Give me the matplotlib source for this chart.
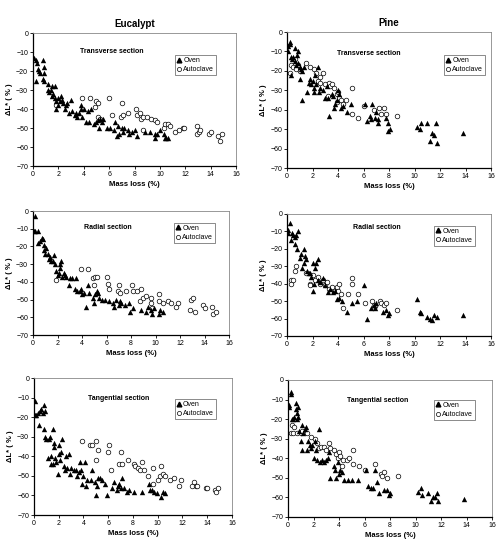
import matplotlib
matplotlib.use("Agg")
import matplotlib.pyplot as plt
from matplotlib.lines import Line2D

plt.rcParams['font.family'] = ['Liberation Sans', 'DejaVu Sans']

# ---- data ----
# Eucalypt, transverse
eu_tr_oven_x = [0.1, 0.2, 0.2, 0.35, 0.4, 0.5, 0.55, 0.8, 0.85, 0.8, 0.9, 0.9, 1.2, 1.2, 1.3, 1.4, 1.5, 1.5, 1.6, 1.7,
                1.7, 1.8, 1.8, 2.0, 2.0, 2.1, 2.2, 2.3, 2.4, 2.5, 2.6, 2.7, 2.8, 3.0, 3.1, 3.3, 3.4, 3.5, 3.6, 3.8,
                3.8, 3.9, 4.0, 4.2, 4.3, 4.4, 4.6, 4.8, 5.0, 5.1, 5.2, 5.3, 5.4, 5.5, 5.8, 6.1, 6.4, 6.5, 6.6, 6.7,
                6.8, 7.0, 7.1, 7.2, 7.5, 7.6, 7.8, 8.0, 8.2, 8.8, 9.2, 9.6, 9.6, 9.8, 10.0, 10.3, 10.4, 10.5, 10.6]
eu_tr_oven_y = [-13, -14, -25, -16, -19, -20, -21, -14, -18, -24, -21, -25, -27, -30, -31, -30, -33, -28, -32, -34,
                -28, -36, -40, -38, -34, -36, -33, -35, -37, -40, -38, -37, -42, -35, -41, -43, -42, -44, -42, -38,
                -40, -44, -40, -47, -41, -47, -40, -48, -47, -46, -50, -45, -47, -45, -50, -50, -51, -47, -54, -49,
                -53, -50, -52, -50, -51, -53, -52, -51, -54, -52, -52, -53, -55, -53, -51, -53, -55, -55, -55]
eu_tr_auto_x = [1.8, 3.9, 4.5, 4.9, 5.0, 5.1, 5.1, 5.3, 6.0, 6.2, 6.9, 7.0, 7.1, 7.5, 8.1, 8.2, 8.4, 8.5, 8.7, 8.7,
                9.0, 9.3, 9.6, 9.8, 10.3, 10.4, 10.6, 10.8, 11.2, 11.5, 11.8, 11.9, 12.9, 12.9, 13.1, 13.2, 13.9,
                14.0, 14.6, 14.7, 14.9]
eu_tr_auto_y = [-38, -34, -34, -39, -36, -37, -44, -45, -34, -43, -44, -37, -43, -42, -40, -43, -42, -45, -44, -51,
                -44, -45, -46, -47, -50, -48, -48, -49, -52, -51, -50, -50, -49, -53, -52, -51, -53, -52, -54, -57, -53]

# Pine, transverse
pi_tr_oven_x = [0.05, 0.1, 0.2, 0.25, 0.3, 0.3, 0.4, 0.5, 0.6, 0.65, 0.7, 0.8, 0.85, 0.9, 1.0, 1.0, 1.1, 1.2, 1.2,
                1.3, 1.6, 1.7, 1.8, 1.9, 2.0, 2.1, 2.1, 2.2, 2.3, 2.4, 2.5, 2.6, 2.8, 3.0, 3.1, 3.2, 3.3, 3.5, 3.6,
                3.7, 3.8, 3.9, 4.0, 4.1, 4.2, 4.4, 4.7, 5.0, 6.1, 6.3, 6.5, 6.6, 6.7, 6.9, 7.0, 7.1, 7.1, 7.8, 7.9,
                7.9, 8.1, 10.2, 10.4, 10.5, 11.0, 11.2, 11.4, 11.5, 11.7, 11.8, 13.8]
pi_tr_oven_y = [-7, -10, -5, -6, -13, -22, -14, -13, -15, -8, -17, -12, -16, -10, -24, -18, -19, -20, -35,
                -18, -31, -26, -24, -27, -25, -29, -31, -22, -27, -18, -31, -29, -30, -34, -28, -34, -43, -32, -33,
                -39, -37, -35, -30, -32, -39, -38, -41, -37, -37, -46, -43, -45, -37, -44, -41, -45, -47, -44, -47,
                -51, -50, -49, -50, -47, -47, -56, -52, -53, -47, -57, -52]
pi_tr_auto_x = [0.2, 0.3, 0.5, 0.6, 0.7, 0.9, 1.0, 1.5, 1.8, 2.1, 2.3, 2.4, 2.6, 2.6, 2.8, 3.0, 3.2, 3.3, 3.4, 3.5,
                3.7, 3.9, 3.9, 4.0, 4.1, 4.2, 4.4, 4.6, 5.1, 5.1, 5.6, 6.0, 6.8, 7.2, 7.4, 7.6, 7.8, 8.6]
pi_tr_auto_y = [-21, -17, -18, -14, -19, -17, -20, -16, -18, -19, -21, -25, -26, -23, -21, -27, -33, -26, -28, -27,
                -29, -32, -36, -31, -34, -35, -37, -35, -29, -42, -44, -38, -40, -39, -42, -39, -42, -43]

# Eucalypt, radial
eu_ra_oven_x = [0.05, 0.2, 0.2, 0.4, 0.4, 0.6, 0.7, 0.8, 0.9, 0.9, 1.0, 1.1, 1.2, 1.3, 1.4, 1.5, 1.6, 1.7, 1.8,
                1.9, 2.0, 2.1, 2.2, 2.2, 2.3, 2.4, 2.5, 2.6, 2.7, 2.9, 3.0, 3.2, 3.4, 3.5, 3.6, 3.8, 3.9, 4.0, 4.2,
                4.3, 4.5, 4.6, 4.9, 5.0, 5.1, 5.2, 5.3, 5.4, 5.6, 5.9, 6.2, 6.5, 6.6, 6.8, 7.0, 7.1, 7.2, 7.5, 7.8,
                7.9, 8.2, 8.8, 9.2, 9.4, 9.6, 9.7, 9.9, 10.3, 10.4, 10.6]
eu_ra_oven_y = [-11, -11, -3, -11, -18, -17, -15, -16, -22, -19, -24, -21, -24, -27, -26, -28, -28, -25, -30,
                -34, -36, -35, -32, -30, -28, -37, -35, -36, -37, -42, -38, -38, -44, -38, -45, -45, -44, -47, -46,
                -54, -42, -46, -49, -52, -47, -45, -46, -49, -50, -50, -51, -52, -54, -50, -53, -51, -52, -53, -52,
                -57, -55, -56, -57, -54, -56, -58, -55, -58, -56, -57]
eu_ra_auto_x = [1.9, 3.9, 4.5, 4.9, 5.0, 5.1, 5.2, 6.0, 6.1, 6.2, 6.9, 7.0, 7.1, 7.6, 8.1, 8.2, 8.5, 8.7, 8.8, 9.0,
                9.2, 9.6, 9.6, 9.7, 10.3, 10.3, 10.6, 11.0, 11.3, 11.7, 11.8, 12.8, 12.9, 13.1, 13.2, 13.9, 14.0,
                14.6, 14.7, 14.9]
eu_ra_auto_y = [-39, -33, -33, -38, -42, -37, -37, -37, -41, -44, -45, -42, -46, -45, -42, -45, -45, -51, -44, -49,
                -48, -49, -52, -55, -47, -51, -52, -51, -52, -54, -52, -56, -50, -49, -57, -53, -55, -54, -58, -57]

# Pine, radial
pi_ra_oven_x = [0.05, 0.1, 0.2, 0.3, 0.4, 0.5, 0.6, 0.6, 0.7, 0.8, 0.9, 1.0, 1.1, 1.2, 1.3, 1.3, 1.4, 1.5, 1.6,
                1.7, 1.8, 1.9, 2.0, 2.0, 2.1, 2.2, 2.3, 2.4, 2.4, 2.6, 2.8, 3.0, 3.2, 3.4, 3.6, 3.8, 3.9, 4.1, 4.3,
                4.7, 5.1, 5.5, 6.0, 6.3, 6.6, 6.8, 6.9, 7.0, 7.5, 7.8, 7.9, 8.0, 10.2, 10.4, 10.5, 11.0, 11.2,
                11.4, 11.5, 11.8, 13.8]
pi_ra_oven_y = [-9, -11, -5, -15, -11, -12, -17, -13, -12, -20, -10, -25, -23, -31, -20, -28, -24, -26, -33,
                -34, -34, -36, -28, -44, -40, -31, -28, -26, -38, -39, -37, -41, -45, -43, -45, -44, -49, -48, -50,
                -56, -51, -50, -41, -60, -54, -52, -54, -51, -56, -55, -58, -57, -49, -56, -57, -59, -60,
                -61, -58, -59, -58]
pi_ra_auto_x = [0.3, 0.3, 0.5, 0.6, 0.7, 1.5, 1.8, 1.8, 2.0, 2.2, 2.4, 2.6, 2.8, 3.0, 3.1, 3.3, 3.5, 3.7, 3.9, 4.0,
                4.1, 4.2, 4.4, 4.8, 5.1, 5.1, 5.6, 6.1, 6.7, 6.8, 6.9, 7.3, 7.4, 7.6, 7.8, 8.6]
pi_ra_auto_y = [-38, -40, -38, -33, -30, -34, -40, -41, -35, -38, -36, -40, -38, -41, -39, -43, -42, -44, -42, -44,
                -40, -46, -54, -46, -37, -40, -46, -51, -50, -52, -53, -50, -51, -52, -51, -55]

# Eucalypt, tangential
eu_ta_oven_x = [0.05, 0.1, 0.2, 0.3, 0.4, 0.5, 0.6, 0.7, 0.8, 0.8, 0.9, 0.9, 1.0, 1.1, 1.2, 1.3, 1.4, 1.4, 1.5,
                1.5, 1.6, 1.6, 1.7, 1.8, 1.9, 2.0, 2.0, 2.1, 2.2, 2.3, 2.4, 2.5, 2.6, 2.7, 2.8, 2.9, 3.0, 3.2, 3.4,
                3.5, 3.6, 3.7, 3.8, 3.9, 4.0, 4.1, 4.2, 4.3, 4.6, 4.7, 4.9, 5.0, 5.1, 5.2, 5.3, 5.5, 5.7, 5.9, 6.3,
                6.5, 6.7, 6.8, 6.9, 7.0, 7.1, 7.3, 7.5, 7.7, 8.1, 8.7, 9.3, 9.4, 9.5, 9.7, 9.9, 10.3, 10.4, 10.6]
eu_ta_oven_y = [-19, -12, -19, -18, -24, -17, -16, -18, -14, -26, -17, -30, -31, -41, -31, -30, -40, -44, -26,
                -44, -33, -35, -41, -43, -49, -39, -34, -42, -38, -31, -45, -47, -40, -46, -39, -49, -46, -47, -47,
                -50, -48, -43, -47, -54, -50, -43, -55, -52, -52, -47, -53, -60, -55, -51, -51, -52, -54, -60, -56,
                -53, -57, -55, -54, -56, -51, -56, -58, -57, -58, -58, -54, -57, -57, -58, -59, -61, -58, -59]
eu_ta_auto_x = [3.9, 4.5, 4.7, 5.0, 5.0, 5.2, 6.0, 6.1, 6.2, 6.9, 7.0, 7.1, 7.6, 8.1, 8.2, 8.4, 8.6, 8.7, 8.9, 9.2,
                9.6, 9.6, 10.0, 10.2, 10.3, 10.4, 10.6, 11.0, 11.3, 11.7, 11.9, 12.8, 12.9, 13.1, 13.2, 13.9, 14.0,
                14.6, 14.7, 14.9]
eu_ta_auto_y = [-32, -34, -34, -32, -42, -37, -38, -34, -47, -44, -38, -44, -42, -44, -45, -46, -47, -43, -47, -50,
                -46, -54, -52, -50, -45, -49, -50, -52, -51, -55, -52, -55, -53, -55, -55, -56, -56, -57, -58, -56]

# Pine, tangential
pi_ta_oven_x = [0.05, 0.1, 0.2, 0.25, 0.3, 0.4, 0.5, 0.6, 0.6, 0.7, 0.7, 0.8, 0.8, 0.9, 1.0, 1.1, 1.1, 1.2, 1.3,
                1.4, 1.5, 1.6, 1.7, 1.8, 1.9, 2.0, 2.1, 2.2, 2.3, 2.4, 2.5, 2.7, 2.8, 3.0, 3.1, 3.2, 3.3, 3.6, 3.7,
                3.8, 3.9, 4.0, 4.1, 4.2, 4.4, 4.7, 5.0, 5.5, 6.1, 6.3, 6.5, 6.7, 6.8, 7.0, 7.1, 7.5, 7.8, 7.9, 8.0,
                10.2, 10.4, 10.5, 11.0, 11.2, 11.4, 11.5, 11.7, 11.8, 13.8]
pi_ta_oven_y = [-13, -14, -6, -7, -20, -20, -19, -12, -15, -17, -20, -19, -14, -26, -31, -36, -23, -27, -25,
                -24, -36, -31, -33, -35, -33, -40, -31, -36, -41, -25, -42, -41, -42, -41, -40, -37, -50, -44, -46,
                -50, -42, -48, -46, -47, -51, -51, -51, -51, -46, -54, -55, -55, -46, -52, -58, -56, -56, -59, -58,
                -57, -55, -59, -58, -62, -60, -60, -58, -62, -61]
pi_ta_auto_x = [0.2, 0.3, 0.4, 0.5, 0.7, 1.0, 1.1, 1.5, 1.8, 2.1, 2.3, 2.4, 2.6, 2.8, 3.0, 3.2, 3.3, 3.6, 3.8, 3.9,
                4.0, 4.1, 4.2, 4.3, 4.6, 4.8, 5.1, 5.1, 5.6, 6.0, 6.8, 7.3, 7.4, 7.5, 7.8, 8.6]
pi_ta_auto_y = [-27, -23, -27, -24, -27, -27, -26, -27, -29, -30, -32, -35, -34, -34, -36, -32, -35, -36, -38, -40,
                -37, -39, -44, -41, -41, -40, -36, -43, -44, -46, -43, -48, -49, -47, -50, -49]

x_ticks = [0, 2, 4, 6, 8, 10, 12, 14, 16]
y_ticks = [0, -10, -20, -30, -40, -50, -60, -70]

fig = plt.figure(figsize=(4.97, 5.45), dpi=100)

# axes rects in figure fraction, legend anchor, section text pos
panels = [
    ([0.0664, 0.6954, 0.4085, 0.2440], (0.70, 0.835), (0.39, 0.86), 'Transverse section',
     eu_tr_oven_x, eu_tr_oven_y, eu_tr_auto_x, eu_tr_auto_y, 'Eucalypt'),
    ([0.5775, 0.6917, 0.4105, 0.2495], (0.77, 0.83), (0.40, 0.845), 'Transverse section',
     pi_tr_oven_x, pi_tr_oven_y, pi_tr_auto_x, pi_tr_auto_y, 'Pine'),
    ([0.0664, 0.3853, 0.3944, 0.2275], (0.72, 0.905), (0.38, 0.87), 'Radial section',
     eu_ra_oven_x, eu_ra_oven_y, eu_ra_auto_x, eu_ra_auto_y, None),
    ([0.5775, 0.3835, 0.4105, 0.2239], (0.72, 0.905), (0.44, 0.885), 'Radial section',
     pi_ra_oven_x, pi_ra_oven_y, pi_ra_auto_x, pi_ra_auto_y, None),
    ([0.0684, 0.0550, 0.3984, 0.2514], (0.71, 0.845), (0.43, 0.85), 'Tangential section',
     eu_ta_oven_x, eu_ta_oven_y, eu_ta_auto_x, eu_ta_auto_y, None),
    ([0.5795, 0.0514, 0.4105, 0.2514], (0.715, 0.855), (0.44, 0.85), 'Tangential section',
     pi_ta_oven_x, pi_ta_oven_y, pi_ta_auto_x, pi_ta_auto_y, None),
]

for rect, leg_pos, txt_pos, section, ox, oy, axx, ay, title in panels:
    ax = fig.add_axes(rect)
    ax.scatter(ox, oy, marker='^', s=15, c='black', linewidths=0, zorder=3)
    ax.scatter(axx, ay, marker='o', s=11, facecolors='white', edgecolors='black', linewidths=0.5, zorder=2)
    ax.set_xlim(0, 16)
    ax.set_ylim(-70, 0)
    ax.set_xticks(x_ticks)
    ax.set_yticks(y_ticks)
    ax.tick_params(labelsize=5, length=2, width=0.6, pad=1.5, colors='black')
    ax.spines['left'].set_linewidth(0.9)
    ax.spines['bottom'].set_linewidth(0.9)
    ax.spines['top'].set_color('#888888')
    ax.spines['right'].set_color('#888888')
    ax.spines['top'].set_linewidth(0.6)
    ax.spines['right'].set_linewidth(0.6)
    ax.set_xlabel('Mass loss (%)', fontsize=5.5, fontweight='bold', labelpad=2)
    ax.set_ylabel('ΔL* ( % )', fontsize=5.5, fontweight='bold', labelpad=2)
    ax.text(txt_pos[0], txt_pos[1], section, transform=ax.transAxes, fontsize=5, fontweight='bold',
            ha='center', va='center')
    if title:
        ax.set_title(title, fontsize=7, fontweight='bold', pad=4)
    handles = [
        Line2D([], [], marker='^', color='black', linestyle='none', markersize=3.4),
        Line2D([], [], marker='o', markerfacecolor='white', markeredgecolor='black', linestyle='none',
               markersize=3, markeredgewidth=0.5),
    ]
    leg = ax.legend(handles, ['Oven', 'Autoclave'], loc='upper left', bbox_to_anchor=leg_pos,
                    fontsize=5, frameon=True, fancybox=False, handlelength=0.6, handletextpad=0.3,
                    borderpad=0.3, labelspacing=0.3, borderaxespad=0)
    leg.get_frame().set_edgecolor('#333333')
    leg.get_frame().set_linewidth(0.5)

fig.savefig('out.png', dpi=100)
